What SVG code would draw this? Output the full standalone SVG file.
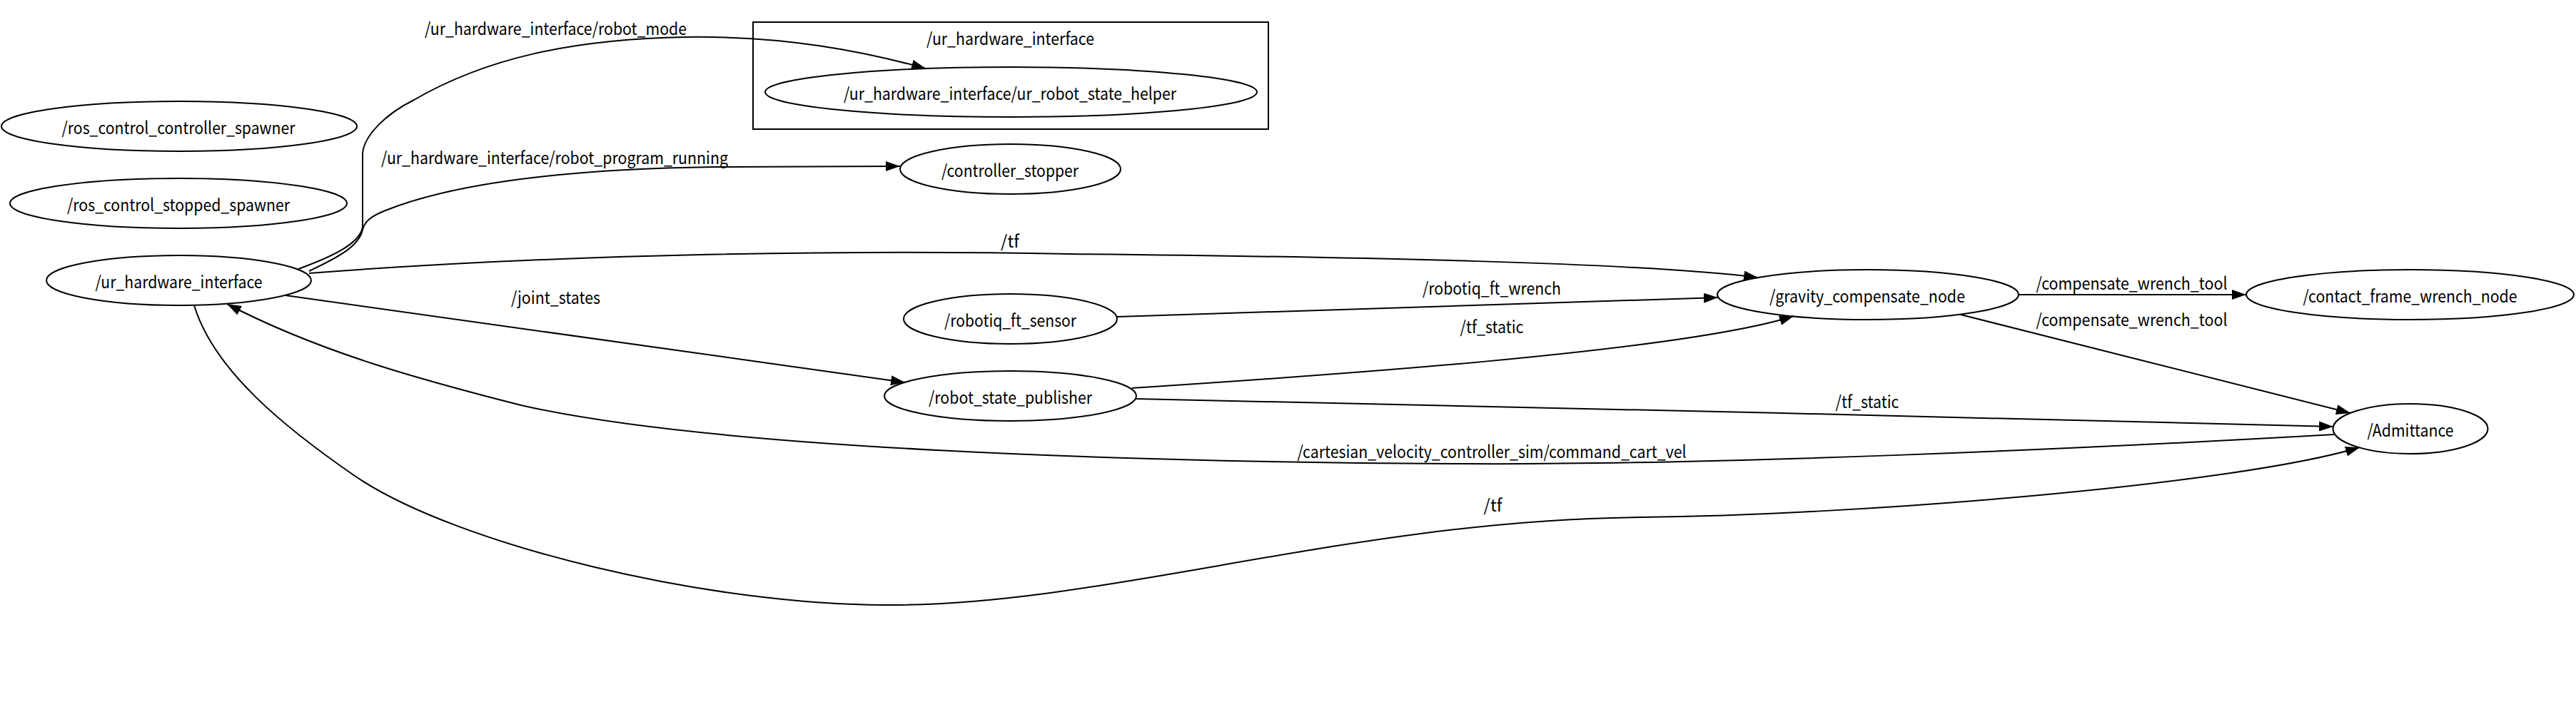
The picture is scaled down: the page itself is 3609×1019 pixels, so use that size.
<svg xmlns="http://www.w3.org/2000/svg" width="3609" height="1019" viewBox="0 0 3609 1019">
<style>
.n ellipse{fill:none;stroke:#000;stroke-width:2}
text{font-family:"Noto Sans CJK SC","Noto Sans",sans-serif;font-size:24px;fill:#000;text-anchor:middle}
.e path{fill:none;stroke:#000;stroke-width:2}
</style>
<defs>
<marker id="ah" viewBox="0 0 20 14" refX="20" refY="7" markerWidth="20" markerHeight="14" markerUnits="userSpaceOnUse" orient="auto">
<path d="M0,0 L20,7 L0,14 z" fill="#000"/>
</marker>
</defs>
<rect width="3609" height="1019" fill="#fff"/>
<g id="cluster_ur_hardware_interface">
<rect x="1055" y="31" width="722" height="150" fill="none" stroke="#000" stroke-width="2"/>
<text x="1415.5" y="63" textLength="235" lengthAdjust="spacingAndGlyphs">/ur_hardware_interface</text>
</g>
<g class="e" id="edges">
<path marker-end="url(#ah)" d="M418,377 C470,358 505,340 508,318 L508,215 C510,190 540,160 580,140 C680,82 800,55 960,52 C1100,50 1210,72 1297,96"/>
<path marker-end="url(#ah)" d="M433,380 C475,360 503,345 508,322 C511,310 520,303 540,295 C640,255 800,237 1000,234 C1100,233 1200,233 1261,233"/>
<path marker-end="url(#ah)" d="M433,383 C800,355 1200,350 1500,356 C1900,360 2300,368 2463,389"/>
<path marker-end="url(#ah)" d="M400,414 L1268,536"/>
<path marker-end="url(#ah)" d="M1565,444 L2407,417"/>
<path marker-end="url(#ah)" d="M1586,544 C1800,530 2350,495 2513,443"/>
<path marker-end="url(#ah)" d="M1592,559 C2000,568 2800,585 3269,598"/>
<path marker-end="url(#ah)" d="M3270,609 C2900,630 2400,652 2050,650 C1600,648 1000,630 730,568 C600,535 450,495 318,426"/>
<path marker-end="url(#ah)" d="M272,428 C300,520 400,600 497,667 C640,765 1000,850 1250,848 C1550,848 1900,728 2300,725 C2600,722 3130,680 3306,627"/>
<path marker-end="url(#ah)" d="M2828,413 L3147,413"/>
<path marker-end="url(#ah)" d="M2747,441 L3293,579"/>
<text x="778.5" y="49" textLength="367" lengthAdjust="spacingAndGlyphs">/ur_hardware_interface/robot_mode</text>
<text x="777" y="230" textLength="486" lengthAdjust="spacingAndGlyphs">/ur_hardware_interface/robot_program_running</text>
<text x="778.5" y="426" textLength="125" lengthAdjust="spacingAndGlyphs">/joint_states</text>
<text x="1415" y="347" textLength="26" lengthAdjust="spacingAndGlyphs">/tf</text>
<text x="2090" y="413" textLength="194" lengthAdjust="spacingAndGlyphs">/robotiq_ft_wrench</text>
<text x="2090" y="467" textLength="89" lengthAdjust="spacingAndGlyphs">/tf_static</text>
<text x="2090" y="642" textLength="545" lengthAdjust="spacingAndGlyphs">/cartesian_velocity_controller_sim/command_cart_vel</text>
<text x="2091.5" y="717" textLength="26" lengthAdjust="spacingAndGlyphs">/tf</text>
<text x="2616" y="572" textLength="89" lengthAdjust="spacingAndGlyphs">/tf_static</text>
<text x="2986.5" y="406" textLength="268" lengthAdjust="spacingAndGlyphs">/compensate_wrench_tool</text>
<text x="2986.5" y="457" textLength="268" lengthAdjust="spacingAndGlyphs">/compensate_wrench_tool</text>
</g>
<g class="n" id="ros_control_controller_spawner">
<ellipse cx="251" cy="177" rx="249" ry="35"/>
<text x="250" y="187.5" textLength="327" lengthAdjust="spacingAndGlyphs">/ros_control_controller_spawner</text>
</g>
<g class="n" id="ros_control_stopped_spawner">
<ellipse cx="250" cy="285" rx="236" ry="35"/>
<text x="250" y="295.5" textLength="312" lengthAdjust="spacingAndGlyphs">/ros_control_stopped_spawner</text>
</g>
<g class="n" id="ur_hardware_interface">
<ellipse cx="250.5" cy="393" rx="185.5" ry="35"/>
<text x="250.5" y="403.5" textLength="234" lengthAdjust="spacingAndGlyphs">/ur_hardware_interface</text>
</g>
<g class="n" id="ur_robot_state_helper">
<ellipse cx="1416.5" cy="129" rx="344.5" ry="35"/>
<text x="1415" y="139.5" textLength="466" lengthAdjust="spacingAndGlyphs">/ur_hardware_interface/ur_robot_state_helper</text>
</g>
<g class="n" id="controller_stopper">
<ellipse cx="1415.5" cy="237" rx="154.5" ry="35"/>
<text x="1415" y="247.5" textLength="192" lengthAdjust="spacingAndGlyphs">/controller_stopper</text>
</g>
<g class="n" id="robotiq_ft_sensor">
<ellipse cx="1415.5" cy="447" rx="149.5" ry="35"/>
<text x="1415.5" y="457.5" textLength="185" lengthAdjust="spacingAndGlyphs">/robotiq_ft_sensor</text>
</g>
<g class="n" id="robot_state_publisher">
<ellipse cx="1415.5" cy="555" rx="176.5" ry="35"/>
<text x="1415.5" y="565.5" textLength="229" lengthAdjust="spacingAndGlyphs">/robot_state_publisher</text>
</g>
<g class="n" id="gravity_compensate_node">
<ellipse cx="2617" cy="413" rx="211" ry="35"/>
<text x="2616" y="423.5" textLength="274" lengthAdjust="spacingAndGlyphs">/gravity_compensate_node</text>
</g>
<g class="n" id="contact_frame_wrench_node">
<ellipse cx="3376.5" cy="413" rx="229.5" ry="35"/>
<text x="3376.5" y="423.5" textLength="300" lengthAdjust="spacingAndGlyphs">/contact_frame_wrench_node</text>
</g>
<g class="n" id="Admittance">
<ellipse cx="3377" cy="601" rx="108.5" ry="35"/>
<text x="3377" y="611.5" textLength="121" lengthAdjust="spacingAndGlyphs">/Admittance</text>
</g>
</svg>
